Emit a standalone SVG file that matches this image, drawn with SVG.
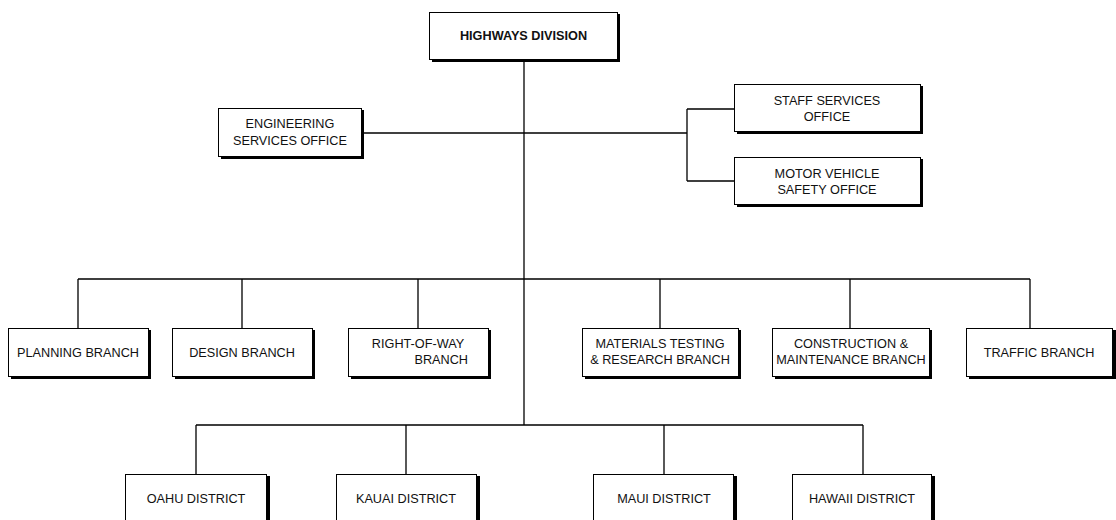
<svg xmlns="http://www.w3.org/2000/svg" width="1116" height="520" viewBox="0 0 1116 520">
  <style>
    .box { fill: #ffffff; stroke: #000000; stroke-width: 1; }
    .shadow { fill: #000000; }
    .lbl { font-family: "Liberation Sans", Arial, sans-serif; font-size: 12.7px; fill: #111111; text-anchor: middle; }
    .bold { font-weight: bold; }
    .wire { fill: none; stroke: #000000; stroke-width: 1.3; }
  </style>

  <!-- connectors -->
  <g id="connectors">
    <path class="wire" d="M524,60 V425"/>
    <path class="wire" d="M362,133 H524"/>
    <path class="wire" d="M524,133 H687 M687,109 V181 M687,109 H734 M687,181 H734"/>
    <path class="wire" d="M78,279 H1030 M78,279 V328 M242,279 V328 M418,279 V328 M660,279 V328 M850,279 V328 M1030,279 V328"/>
    <path class="wire" d="M196,425 H863 M196,425 V474 M406,425 V474 M664,425 V474 M863,425 V474"/>
  </g>

  <g id="highways-division">
    <rect class="shadow" x="432" y="14" width="188" height="48"/>
    <rect class="box" x="429.5" y="12.5" width="188" height="47"/>
    <text class="lbl bold" x="523.5" y="40">HIGHWAYS DIVISION</text>
  </g>

  <g id="engineering-services">
    <rect class="shadow" x="221" y="110" width="143" height="49"/>
    <rect class="box" x="218.5" y="108.5" width="143" height="48"/>
    <text class="lbl" x="290" y="128">ENGINEERING</text>
    <text class="lbl" x="290" y="145">SERVICES OFFICE</text>
  </g>

  <g id="staff-services">
    <rect class="shadow" x="737" y="86" width="186" height="48"/>
    <rect class="box" x="734.5" y="84.5" width="186" height="47"/>
    <text class="lbl" x="827" y="105">STAFF SERVICES</text>
    <text class="lbl" x="827" y="121">OFFICE</text>
  </g>

  <g id="motor-vehicle-safety">
    <rect class="shadow" x="737" y="159" width="186" height="48"/>
    <rect class="box" x="734.5" y="157.5" width="186" height="47"/>
    <text class="lbl" x="827" y="178">MOTOR VEHICLE</text>
    <text class="lbl" x="827" y="194">SAFETY OFFICE</text>
  </g>

  <g id="planning-branch">
    <rect class="shadow" x="11" y="330" width="140" height="49"/>
    <rect class="box" x="8.5" y="328.5" width="140" height="48"/>
    <text class="lbl" x="78" y="357">PLANNING BRANCH</text>
  </g>

  <g id="design-branch">
    <rect class="shadow" x="175" y="330" width="140" height="49"/>
    <rect class="box" x="172.5" y="328.5" width="140" height="48"/>
    <text class="lbl" x="242" y="357">DESIGN BRANCH</text>
  </g>

  <g id="right-of-way-branch">
    <rect class="shadow" x="351" y="330" width="140" height="49"/>
    <rect class="box" x="348.5" y="328.5" width="140" height="48"/>
    <text class="lbl" x="418" y="348">RIGHT-OF-WAY</text>
    <text class="lbl" x="468" y="364" style="text-anchor:end">BRANCH</text>
  </g>

  <g id="materials-testing-branch">
    <rect class="shadow" x="585" y="330" width="156" height="49"/>
    <rect class="box" x="582.5" y="328.5" width="156" height="48"/>
    <text class="lbl" x="660" y="348">MATERIALS TESTING</text>
    <text class="lbl" x="660" y="364">&amp; RESEARCH BRANCH</text>
  </g>

  <g id="construction-maintenance-branch">
    <rect class="shadow" x="775" y="330" width="157" height="49"/>
    <rect class="box" x="772.5" y="328.5" width="157" height="48"/>
    <text class="lbl" x="851" y="348">CONSTRUCTION &amp;</text>
    <text class="lbl" x="851" y="364">MAINTENANCE BRANCH</text>
  </g>

  <g id="traffic-branch">
    <rect class="shadow" x="969" y="330" width="147" height="49"/>
    <rect class="box" x="966.5" y="328.5" width="146" height="48"/>
    <text class="lbl" x="1039" y="357">TRAFFIC BRANCH</text>
  </g>

  <g id="oahu-district">
    <rect class="shadow" x="128" y="476" width="142" height="60"/>
    <rect class="box" x="125.5" y="474.5" width="141" height="60"/>
    <text class="lbl" x="196" y="503">OAHU DISTRICT</text>
  </g>

  <g id="kauai-district">
    <rect class="shadow" x="339" y="476" width="141" height="60"/>
    <rect class="box" x="336.5" y="474.5" width="140" height="60"/>
    <text class="lbl" x="406" y="503">KAUAI DISTRICT</text>
  </g>

  <g id="maui-district">
    <rect class="shadow" x="596" y="476" width="141" height="60"/>
    <rect class="box" x="593.5" y="474.5" width="140" height="60"/>
    <text class="lbl" x="664" y="503">MAUI DISTRICT</text>
  </g>

  <g id="hawaii-district">
    <rect class="shadow" x="795" y="476" width="140" height="60"/>
    <rect class="box" x="792.5" y="474.5" width="139" height="60"/>
    <text class="lbl" x="862" y="503">HAWAII DISTRICT</text>
  </g>
</svg>
